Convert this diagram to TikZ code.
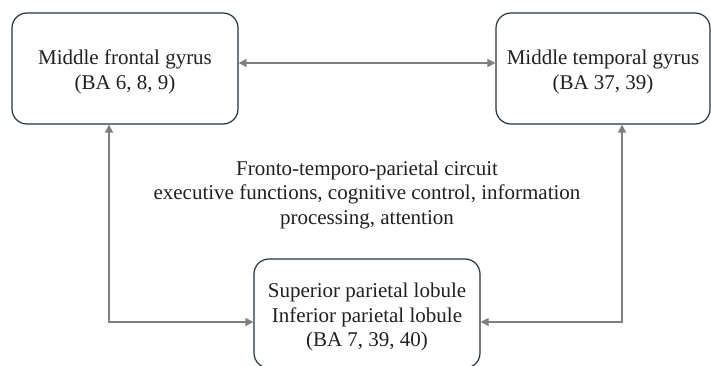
\documentclass[tikz,border=0pt]{standalone}
\usepackage{fontspec}
\setmainfont{Liberation Serif}
\usetikzlibrary{arrows.meta}
\definecolor{boxline}{HTML}{27323D}
\definecolor{arrgray}{HTML}{7F7F7F}
\definecolor{txt}{HTML}{231F20}
\tikzset{
  region/.style={draw=boxline, line width=1.2pt, rounded corners=15pt, inner sep=0pt},
  link/.style={draw=arrgray, line width=1.4pt, {Triangle[length=8pt,width=8pt]}-{Triangle[length=8pt,width=8pt]}},
  caption/.style={align=center, text=txt, font=\fontsize{21}{24.5}\selectfont, inner sep=0pt}
}
\begin{document}
\begin{tikzpicture}[x=1pt,y=-1pt]
\useasboundingbox (0,0) rectangle (711,366);
\node[region, minimum width=226pt, minimum height=111pt] (mfg) at (125,68.5) {};
\node[caption] (mfgt) at (125,72) {Middle frontal gyrus\\(BA 6, 8, 9)};
\node[region, minimum width=214pt, minimum height=111pt] (mtg) at (603,68.5) {};
\node[caption] (mtgt) at (603,72) {Middle temporal gyrus\\(BA 37, 39)};
\node[region, minimum width=226pt, minimum height=109pt] (pl) at (367,313.5) {};
\node[caption] (plt) at (367,317) {Superior parietal lobule\\Inferior parietal lobule\\(BA 7, 39, 40)};
\node[caption] (circ) at (367,194.5)
  {Fronto-temporo-parietal circuit\\executive functions, cognitive control, information\\processing, attention};
\coordinate (cl) at (109,322);
\coordinate (cr) at (622,322);
\draw[link] ([yshift=5.5pt]mfg.east) -- ([yshift=5.5pt]mtg.west);
\draw[link] (mfg.south -| cl) |- (pl.west |- cl);
\draw[link] (mtg.south -| cr) |- (pl.east |- cr);
\end{tikzpicture}
\end{document}
